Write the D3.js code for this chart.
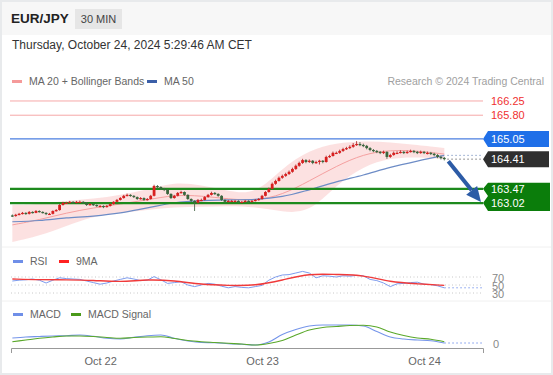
<!DOCTYPE html>
<html>
<head>
<meta charset="utf-8">
<script src="https://cdnjs.cloudflare.com/ajax/libs/d3/7.8.5/d3.min.js"></script>
<style>
  body { margin: 0; background: #fff; }
  svg { display: block; font-family: "Liberation Sans", Arial, sans-serif; }
</style>
</head>
<body>
<svg width="553" height="375"></svg>
<script>
// 30 min candles, first one Oct 21 11:00 UTC, [open, high, low, close]
var candles = [
  [162.63,162.66,162.58,162.61],[162.61,162.68,162.59,162.65],[162.65,162.71,162.63,162.68],[162.68,162.74,162.66,162.71],
  [162.71,162.73,162.65,162.68],[162.68,162.77,162.66,162.74],[162.74,162.76,162.69,162.71],[162.71,162.80,162.70,162.77],
  [162.77,162.79,162.72,162.74],[162.74,162.76,162.69,162.71],[162.71,162.73,162.64,162.68],[162.68,162.71,162.65,162.68],
  [162.68,162.79,162.66,162.77],[162.77,162.83,162.75,162.80],[162.80,162.99,162.78,162.96],[162.96,163.06,162.94,163.03],
  [163.03,163.06,163.00,163.03],[163.03,163.09,163.01,163.06],[163.06,163.08,163.00,163.03],[163.03,163.09,163.01,163.06],
  [163.06,163.10,163.03,163.06],[163.06,163.08,163.00,163.03],[163.03,163.05,162.93,162.96],[162.96,163.02,162.94,162.99],
  [162.99,163.01,162.93,162.96],[162.96,162.98,162.90,162.93],[162.93,162.96,162.89,162.93],[162.93,162.95,162.86,162.90],
  [162.90,162.96,162.88,162.93],[162.93,163.01,162.91,162.99],[162.99,163.08,162.97,163.06],[163.06,163.15,163.04,163.12],
  [163.12,163.21,163.10,163.18],[163.18,163.28,163.16,163.25],[163.25,163.32,163.23,163.28],[163.28,163.30,163.22,163.25],
  [163.25,163.27,163.18,163.21],[163.21,163.23,163.12,163.15],[163.15,163.21,163.13,163.18],[163.18,163.20,163.09,163.12],
  [163.12,163.18,163.10,163.15],[163.15,163.28,163.13,163.25],[163.25,163.60,163.23,163.56],[163.56,163.59,163.49,163.53],
  [163.53,163.55,163.44,163.47],[163.47,163.50,163.40,163.44],[163.44,163.46,163.28,163.31],[163.31,163.33,163.15,163.18],
  [163.18,163.28,163.16,163.25],[163.25,163.37,163.23,163.34],[163.34,163.41,163.32,163.37],[163.37,163.39,163.25,163.28],
  [163.28,163.30,163.12,163.15],[163.15,163.17,163.05,163.09],[163.09,163.11,162.77,163.03],[163.03,163.15,163.00,163.12],
  [163.12,163.16,163.08,163.12],[163.12,163.24,163.10,163.21],[163.21,163.31,163.19,163.28],[163.28,163.38,163.26,163.34],
  [163.34,163.37,163.28,163.31],[163.31,163.33,163.22,163.25],[163.25,163.27,163.09,163.12],[163.12,163.14,163.03,163.06],
  [163.06,163.12,163.04,163.09],[163.09,163.12,163.06,163.09],[163.09,163.12,163.05,163.09],[163.09,163.11,163.03,163.06],
  [163.06,163.09,163.02,163.06],[163.06,163.12,163.04,163.09],[163.09,163.11,163.03,163.06],[163.06,163.12,163.04,163.09],
  [163.09,163.15,163.07,163.12],[163.12,163.18,163.10,163.15],[163.15,163.28,163.13,163.25],[163.25,163.40,163.23,163.37],
  [163.37,163.51,163.35,163.47],[163.47,163.67,163.45,163.63],[163.63,163.76,163.60,163.72],[163.72,163.86,163.70,163.82],
  [163.82,163.92,163.79,163.88],[163.88,163.98,163.85,163.94],[163.94,164.05,163.91,164.01],[164.01,164.14,163.98,164.10],
  [164.10,164.24,164.07,164.20],[164.20,164.33,164.17,164.29],[164.29,164.42,164.26,164.38],[164.38,164.41,164.28,164.32],
  [164.32,164.40,164.29,164.36],[164.36,164.38,164.25,164.29],[164.29,164.36,164.26,164.32],[164.32,164.39,164.24,164.36],
  [164.36,164.38,164.28,164.32],[164.32,164.52,164.30,164.48],[164.48,164.55,164.45,164.51],[164.51,164.65,164.49,164.61],
  [164.61,164.65,164.57,164.61],[164.61,164.71,164.58,164.67],[164.67,164.77,164.64,164.73],[164.73,164.80,164.70,164.76],
  [164.76,164.85,164.73,164.80],[164.80,164.92,164.77,164.86],[164.86,164.98,164.83,164.89],[164.89,164.95,164.82,164.86],
  [164.86,164.90,164.79,164.83],[164.83,164.86,164.72,164.76],[164.76,164.79,164.66,164.70],[164.70,164.73,164.63,164.67],
  [164.67,164.70,164.60,164.64],[164.64,164.67,164.57,164.61],[164.61,164.68,164.57,164.64],[164.64,164.66,164.42,164.48],
  [164.48,164.58,164.45,164.54],[164.54,164.65,164.52,164.61],[164.61,164.66,164.57,164.61],[164.61,164.69,164.59,164.64],
  [164.64,164.67,164.57,164.61],[164.61,164.68,164.58,164.64],[164.64,164.71,164.62,164.67],[164.67,164.70,164.60,164.64],
  [164.64,164.67,164.57,164.61],[164.61,164.68,164.58,164.64],[164.64,164.67,164.57,164.61],[164.61,164.65,164.56,164.61],
  [164.61,164.64,164.54,164.58],[164.58,164.61,164.50,164.54],[164.54,164.57,164.44,164.48],[164.48,164.52,164.40,164.45],
  [164.45,164.48,164.37,164.41]
];

// indicators, one value every 8 candles
var ma20    = [162.33,162.49,162.71,162.87,162.99,163.12,163.28,163.25,163.15,163.09,163.28,163.72,164.19,164.57,164.70,164.67,164.57];
var bbUpper = [162.96,162.99,163.09,163.15,163.28,163.44,163.69,163.59,163.40,163.28,164.13,164.70,164.92,164.98,164.95,164.86,164.76];
var bbLower = [161.79,161.98,162.30,162.61,162.71,162.80,162.90,162.90,162.93,162.90,162.74,162.71,163.59,164.19,164.45,164.48,164.41];
var ma50    = [162.43,162.47,162.55,162.61,162.71,162.87,163.03,163.10,163.12,163.14,163.23,163.44,163.69,163.91,164.15,164.35,164.53];

// RSI every 2 candles, its 9MA every 8
var rsi = [60,62,63,65,62,55,62,68,66,65,64,60,56,52,55,60,64,68,65,61,62,71,63,54,56,58,50,46,50,54,52,47,43,
           46,44,43,46,49,62,70,75,76,80,84,80,68,73,72,70,73,72,74,73,64,61,55,46,53,54,56,57,52,51,48,43];
var rsiMA = [65,63,63,62,57,64,61,51,49,48,62,79,76,75,57,53,49];
var rsiLevels = [70, 50, 30];

// MACD every 4 candles
var macd       = [0.060,0.070,0.075,0.080,0.083,0.090,0.077,0.057,0.050,0.067,0.083,0.090,0.057,0.030,0.015,0.013,0.003,
                  -0.003,-0.010,0.020,0.095,0.145,0.180,0.190,0.190,0.190,0.180,0.125,0.070,0.050,0.040,0.033,0.010];
var macdSignal = [0.023,0.040,0.057,0.070,0.080,0.080,0.075,0.065,0.057,0.065,0.070,0.073,0.055,0.035,0.023,0.015,0.007,
                  0.000,-0.010,0.005,0.035,0.090,0.140,0.165,0.175,0.185,0.187,0.170,0.120,0.085,0.060,0.047,0.023];

var resistances = [166.25, 165.80],
    pivot = 165.05,
    supports = [163.47, 163.02],
    lastPrice = 164.41;

var dayTicks = [Date.UTC(2024,9,22), Date.UTC(2024,9,23), Date.UTC(2024,9,24)];

var t0 = Date.UTC(2024,9,21,11,0),
    step = 30 * 60 * 1000;
function tm(i) { return new Date(t0 + i * step); }

var svg = d3.select("svg"),
    width = +svg.attr("width"),
    height = +svg.attr("height"),
    left = 11, right = 483;

var x = d3.scaleUtc()
    .domain([new Date(Date.UTC(2024,9,21,10,48)), new Date(Date.UTC(2024,9,24,8,44))])
    .range([left, right]);
var y = d3.scaleLinear().domain([161.65, 166.55]).range([246.4, 91.5]);
var yr = d3.scaleLinear().domain([30, 70]).range([293, 277]);
var ym = d3.scaleLinear().domain([0, 0.2]).range([344, 324]);

// frame + header
svg.append("rect").attr("width", width).attr("height", height).attr("fill", "#fff");
svg.append("rect").attr("width", width).attr("height", 35).attr("fill", "#f7f7f7");
svg.append("rect").attr("x", 1).attr("y", 1).attr("width", width - 2).attr("height", height - 2)
    .attr("fill", "none").attr("stroke", "#e8eaec").attr("stroke-width", 2);
[247, 301].forEach(function(v) {
  svg.append("line").attr("x1", 2).attr("x2", width - 2).attr("y1", v).attr("y2", v)
     .attr("stroke", "#f0f0f0");
});

svg.append("text").attr("x", 11).attr("y", 23).text("EUR/JPY")
    .attr("font-size", 13.5).attr("font-weight", "bold").attr("fill", "#222");
svg.append("rect").attr("x", 75).attr("y", 9).attr("width", 47).attr("height", 20).attr("fill", "#e6e6e6");
svg.append("text").attr("x", 98.5).attr("y", 23).attr("text-anchor", "middle").text("30 MIN")
    .attr("font-size", 11).attr("fill", "#444");
svg.append("text").attr("x", 12).attr("y", 49).text("Thursday, October 24, 2024 5:29:46 AM CET")
    .attr("font-size", 12).attr("fill", "#333");

// legends
function legendItem(g, lx, ly, color, label) {
  g.append("rect").attr("x", lx).attr("y", ly - 5).attr("width", 10).attr("height", 3).attr("fill", color);
  g.append("text").attr("x", lx + 17).attr("y", ly).text(label).attr("font-size", 10.5).attr("fill", "#666");
}
var lg = svg.append("g");
legendItem(lg, 12, 85, "#f59a9a", "MA 20 + Bollinger Bands");
legendItem(lg, 147, 85, "#3b5fa8", "MA 50");
legendItem(lg, 13, 265, "#6f8fe8", "RSI");
legendItem(lg, 59, 265, "#f22", "9MA");
legendItem(lg, 13, 318, "#6f8fe8", "MACD");
legendItem(lg, 71, 318, "#4a9a1a", "MACD Signal");
svg.append("text").attr("x", 544).attr("y", 85).attr("text-anchor", "end")
    .text("Research \u00a9 2024 Trading Central").attr("font-size", 10.5).attr("fill", "#a0a0a0");

// bollinger band + moving averages
var every8 = function(d, k) { return x(tm(k * 8)); };
svg.append("path").datum(ma20.map(function(d, k) { return k; }))
    .attr("fill", "#fcdcdc").attr("opacity", 0.85)
    .attr("d", d3.area().curve(d3.curveBasis)
      .x(function(k) { return x(tm(k * 8)); })
      .y0(function(k) { return y(bbLower[k]); })
      .y1(function(k) { return y(bbUpper[k]); }));
svg.append("path").datum(ma20).attr("fill", "none").attr("stroke", "#f5a0a0").attr("stroke-width", 1)
    .attr("d", d3.line().curve(d3.curveBasis).x(every8).y(function(d) { return y(d); }));
svg.append("path").datum(ma50).attr("fill", "none").attr("stroke", "#6d8cc6").attr("stroke-width", 1.2)
    .attr("d", d3.line().curve(d3.curveMonotoneX).x(every8).y(function(d) { return y(d); }));

// levels
resistances.forEach(function(v) {
  svg.append("line").attr("x1", 10).attr("x2", right).attr("y1", y(v)).attr("y2", y(v))
     .attr("stroke", "#f6a8a8").attr("stroke-width", 1);
  svg.append("text").attr("x", 491).attr("y", y(v) + 4).text(v.toFixed(2))
     .attr("font-size", 11).attr("fill", "#f03030");
});
svg.append("line").attr("x1", 10).attr("x2", right).attr("y1", y(pivot)).attr("y2", y(pivot))
    .attr("stroke", "#4a7ee0").attr("stroke-width", 1.3);
supports.forEach(function(v) {
  svg.append("line").attr("x1", 10).attr("x2", right).attr("y1", y(v)).attr("y2", y(v))
     .attr("stroke", "#1d8a1d").attr("stroke-width", 2.2);
});

// candles
var last = candles.length - 1;
var cg = svg.append("g");
candles.forEach(function(c, i) {
  var cx = x(tm(i)), up = c[3] >= c[0],
      col = up ? "#d91f1f" : "#3a663d";
  cg.append("line").attr("x1", cx).attr("x2", cx).attr("y1", y(c[1])).attr("y2", y(c[2]))
    .attr("stroke", up ? "#a33" : "#4a684b").attr("stroke-width", 0.9);
  var top = y(Math.max(c[0], c[3])), bot = y(Math.min(c[0], c[3]));
  cg.append("rect").attr("x", cx - 1.4).attr("y", top).attr("width", 2.8)
    .attr("height", Math.max(1.2, bot - top)).attr("fill", col);
});

// dotted extensions after last candle
var lastX = x(tm(last));
svg.append("line").attr("x1", lastX + 3).attr("x2", right).attr("y1", y(ma50[ma50.length - 1])).attr("y2", y(ma50[ma50.length - 1]))
    .attr("stroke", "#8aa0c8").attr("stroke-dasharray", "1.5,2.5");
svg.append("line").attr("x1", lastX + 3).attr("x2", right).attr("y1", y(lastPrice)).attr("y2", y(lastPrice))
    .attr("stroke", "#777").attr("stroke-dasharray", "1.5,2.5");

// forecast arrow
var ax0 = lastX + 4, ay0 = y(candles[last][3]) + 2,
    ax1 = right - 2, ay1 = y(supports[1]) - 1,
    ang = Math.atan2(ay1 - ay0, ax1 - ax0),
    hl = 15, hw = 7,
    bx = ax1 - hl * Math.cos(ang), by = ay1 - hl * Math.sin(ang);
svg.append("line").attr("x1", ax0).attr("y1", ay0).attr("x2", bx).attr("y2", by)
    .attr("stroke", "#2c5ba6").attr("stroke-width", 4);
svg.append("polygon").attr("fill", "#2c5ba6").attr("points", [
  [ax1, ay1],
  [bx + hw * Math.sin(ang), by - hw * Math.cos(ang)],
  [bx - hw * Math.sin(ang), by + hw * Math.cos(ang)]
].join(" "));

// price tags
function tag(v, fill) {
  var cy = y(v);
  svg.append("polygon").attr("fill", fill)
     .attr("points", [[483, cy], [488, cy - 8], [549, cy - 8], [549, cy + 8], [488, cy + 8]].join(" "));
  svg.append("text").attr("x", 491).attr("y", cy + 4).text(v.toFixed(2))
     .attr("font-size", 11).attr("fill", "#fff");
}
tag(pivot, "#1f6fe8");
tag(lastPrice, "#2f2f2f");
var s0 = y(supports[0]), s1 = y(supports[1]);
svg.append("polygon").attr("fill", "#0b7d0b")
    .attr("points", [[483, s0], [488, s0 - 6], [550, s0 - 6], [550, s1 + 8], [488, s1 + 8], [483, s1], [488, (s0 + s1) / 2]].join(" "));
supports.forEach(function(v) {
  svg.append("text").attr("x", 491).attr("y", y(v) + 4).text(v.toFixed(2))
     .attr("font-size", 11).attr("fill", "#fff");
});

// RSI panel
rsiLevels.forEach(function(v) {
  svg.append("line").attr("x1", left).attr("x2", right).attr("y1", yr(v)).attr("y2", yr(v))
     .attr("stroke", "#c8c8c8").attr("stroke-dasharray", "1,2.5");
  svg.append("text").attr("x", 492).attr("y", yr(v) + 4.5).text(v)
     .attr("font-size", 11).attr("fill", "#888");
});
svg.append("path").datum(rsi).attr("fill", "none").attr("stroke", "#7e9cee").attr("stroke-width", 1)
    .attr("d", d3.line().x(function(d, k) { return x(tm(k * 2)); }).y(function(d) { return yr(d); }));
svg.append("path").datum(rsiMA).attr("fill", "none").attr("stroke", "#f03a3a").attr("stroke-width", 1.4)
    .attr("d", d3.line().curve(d3.curveBasis).x(every8).y(function(d) { return yr(d); }));
svg.append("line").attr("x1", lastX).attr("x2", right).attr("y1", yr(rsi[rsi.length - 1])).attr("y2", yr(rsi[rsi.length - 1]))
    .attr("stroke", "#7e9cee").attr("stroke-dasharray", "1.5,2.5");

// MACD panel
var every4 = function(d, k) { return x(tm(k * 4)); };
svg.append("path").datum(macd).attr("fill", "none").attr("stroke", "#7595ea").attr("stroke-width", 1.1)
    .attr("d", d3.line().curve(d3.curveMonotoneX).x(every4).y(function(d) { return ym(d); }));
svg.append("path").datum(macdSignal).attr("fill", "none").attr("stroke", "#5aa82a").attr("stroke-width", 1.1)
    .attr("d", d3.line().curve(d3.curveMonotoneX).x(every4).y(function(d) { return ym(d); }));
svg.append("line").attr("x1", lastX).attr("x2", right).attr("y1", ym(macd[macd.length - 1])).attr("y2", ym(macd[macd.length - 1]))
    .attr("stroke", "#7595ea").attr("stroke-dasharray", "1.5,2.5");
svg.append("text").attr("x", 493).attr("y", ym(0) + 4).text("0").attr("font-size", 11).attr("fill", "#888");

// time axis
var axis = svg.append("g").attr("transform", "translate(0,348)")
    .call(d3.axisBottom(x).tickValues(dayTicks.map(function(d) { return new Date(d); }))
      .tickSizeInner(0).tickSizeOuter(5).tickPadding(9)
      .tickFormat(d3.utcFormat("%b %d")));
axis.select(".domain").attr("stroke", "#999");
axis.selectAll("text").attr("font-size", 11).attr("fill", "#666")
    .attr("font-family", "Liberation Sans, Arial, sans-serif");
</script>
</body>
</html>
